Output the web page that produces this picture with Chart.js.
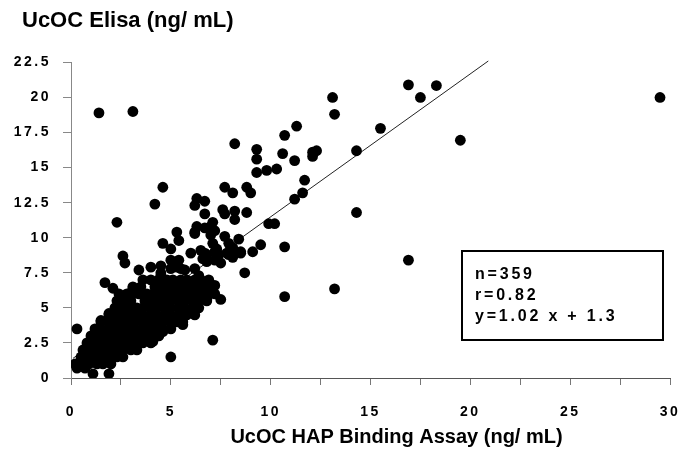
<!DOCTYPE html>
<html>
<head>
<meta charset="utf-8">
<script src="https://cdn.jsdelivr.net/npm/chart.js@4"></script>
<style>
  html, body { margin: 0; padding: 0; background: #fff; }
  #wrap { width: 680px; height: 450px; position: relative; }
</style>
</head>
<body>
<div id="wrap"><canvas id="scatter"></canvas></div>
<script>
// UcOC HAP binding assay (x) vs UcOC Elisa (y), ng/mL
// dense cluster first, read row by row, then the scattered points
const hap = [
  1.1, 1.9,
  0.3, 0.7,
  0.2, 0.6, 0.9, 1.3, 1.6, 2.0,
  0.5, 0.9, 1.2, 1.6, 1.9, 2.3, 2.6,
  0.6, 0.9, 1.3, 1.6, 2.0, 2.3, 2.6, 3.0, 3.3,
  0.8, 1.2, 1.5, 1.9, 2.2, 2.5, 2.9, 3.2, 3.6, 4.0,
  1.0, 1.3, 1.7, 2.0, 2.4, 2.7, 3.0, 3.4, 3.7, 4.1, 4.4,
  1.2, 1.5, 1.9, 2.2, 2.5, 2.9, 3.2, 3.6, 3.9, 4.2, 4.6, 5.0,
  1.5, 1.9, 2.2, 2.6, 2.9, 3.2, 3.6, 3.9, 4.3, 4.6, 5.0, 5.3, 5.6,
  1.9, 2.3, 2.6, 3.0, 3.3, 3.6, 4.0, 4.3, 4.7, 5.0, 5.4, 5.8, 6.2,
  2.2, 2.6, 2.9, 3.3, 3.6, 4.0, 4.3, 4.7, 5.0, 5.4, 5.7, 6.1, 6.4,
  2.3, 2.7, 3.0, 3.7, 4.0, 4.4, 4.7, 5.0, 5.4, 5.7, 6.1, 6.4, 6.8,
  2.4, 2.8, 3.1, 3.4, 3.8, 4.1, 4.5, 4.8, 5.1, 5.5, 5.8, 6.2, 6.5, 6.9, 7.2,
  3.1, 3.5, 4.2, 4.6, 4.9, 5.3, 5.6, 6.0, 6.3, 6.7, 7.0,
  3.6, 4.0, 4.4, 4.8, 5.1, 5.5, 5.8, 6.2, 6.5, 6.9,
  // scattered
  0.3, 1.5, 1.9, 4.6, 4.1, 5.6, 5.0, 7.1,
  5.8, 6.2, 6.8, 7.5, 1.7, 2.1, 3.1, 4.5,
  3.4, 4.0, 4.5, 4.5, 5.0, 5.4, 5.3, 5.0,
  5.5, 5.7, 6.2, 6.4, 6.7, 7.2, 2.6, 2.7,
  4.6, 5.0, 5.3, 5.4, 6.0, 6.2, 6.3, 6.7,
  7.0, 6.2, 7.0, 7.2, 7.1, 7.3, 6.8, 7.4,
  7.8, 8.1, 6.5, 6.6, 6.8, 7.2, 7.5, 6.7,
  7.2, 7.9, 8.5, 7.7, 7.9, 8.4, 8.1, 8.5,
  8.1, 9.1, 9.5, 8.7, 2.3, 4.2, 4.6, 6.2,
  6.3, 6.7, 6.7, 7.1, 7.6, 7.7, 8.2, 8.2,
  8.8, 7.7, 8.1, 8.8, 9.0, 9.9, 10.2, 10.7,
  10.7, 13.2, 16.9, 14.3, 8.2, 9.3, 9.3, 9.3,
  9.8, 10.3, 10.7, 11.3, 10.6, 11.2, 12.1, 12.3,
  12.1, 11.7, 11.6, 11.2, 13.1, 13.2, 14.3, 15.5,
  16.9, 18.3, 17.5, 19.5, 29.5, 1.4, 3.1
];
const elisa = [
  0.3, 0.3,
  0.7, 0.7,
  1.0, 1.0, 1.0, 1.0, 1.0, 1.0,
  1.5, 1.5, 1.5, 1.5, 1.5, 1.5, 1.5,
  2.0, 2.0, 2.0, 2.0, 2.0, 2.0, 2.0, 2.0, 2.0,
  2.5, 2.5, 2.5, 2.5, 2.5, 2.5, 2.5, 2.5, 2.5, 2.5,
  3.0, 3.0, 3.0, 3.0, 3.0, 3.0, 3.0, 3.0, 3.0, 3.0, 3.0,
  3.5, 3.5, 3.5, 3.5, 3.5, 3.5, 3.5, 3.5, 3.5, 3.5, 3.5, 3.5,
  4.0, 4.0, 4.0, 4.0, 4.0, 4.0, 4.0, 4.0, 4.0, 4.0, 4.0, 4.0, 4.0,
  4.5, 4.5, 4.5, 4.5, 4.5, 4.5, 4.5, 4.5, 4.5, 4.5, 4.5, 4.5, 4.5,
  5.0, 5.0, 5.0, 5.0, 5.0, 5.0, 5.0, 5.0, 5.0, 5.0, 5.0, 5.0, 5.0,
  5.5, 5.5, 5.5, 5.5, 5.5, 5.5, 5.5, 5.5, 5.5, 5.5, 5.5, 5.5, 5.5,
  6.0, 6.0, 6.0, 6.0, 6.0, 6.0, 6.0, 6.0, 6.0, 6.0, 6.0, 6.0, 6.0, 6.0, 6.0,
  6.5, 6.5, 6.5, 6.5, 6.5, 6.5, 6.5, 6.5, 6.5, 6.5, 6.5,
  7.0, 7.0, 7.0, 7.0, 7.0, 7.0, 7.0, 7.0, 7.0, 7.0,
  // scattered
  3.5, 4.1, 4.6, 3.3, 2.6, 3.8, 1.5, 2.7,
  4.8, 4.8, 5.6, 5.6, 6.8, 6.4, 6.4, 7.3,
  7.7, 7.9, 8.0, 7.5, 8.4, 8.4, 7.9, 7.8,
  7.8, 7.7, 7.8, 7.3, 6.7, 6.6, 8.7, 8.2,
  9.6, 9.2, 10.4, 9.8, 8.9, 10.4, 10.8, 10.7,
  10.8, 10.3, 10.2, 10.5, 9.6, 9.2, 8.8, 8.8,
  8.9, 9.1, 9.1, 8.5, 8.3, 8.4, 8.2, 8.9,
  9.0, 8.8, 8.9, 10.1, 9.6, 9.9, 9.3, 9.0,
  8.6, 9.0, 9.5, 7.5, 11.1, 12.4, 13.6, 12.3,
  12.8, 12.6, 11.7, 11.1, 12.0, 11.7, 11.9, 11.3,
  11.8, 13.6, 13.2, 13.6, 13.2, 11.0, 11.0, 9.35,
  5.8, 6.35, 8.4, 11.8, 16.7, 16.3, 15.6, 14.65,
  14.8, 14.9, 17.3, 17.95, 16.0, 15.5, 16.1, 16.2,
  15.8, 14.1, 13.2, 12.75, 20.0, 18.8, 16.2, 17.8,
  20.9, 20.85, 20.0, 16.95, 20.0, 18.9, 19.0
];

// regression line end points (y = 1.02 x + 1.3)
const fitHap = [0.1, 20.9];
const fitElisa = [1.4, 22.6];

const statsLines = ['n=359', 'r=0.82', 'y=1.02 x + 1.3'];

const FONT = '"Liberation Sans", Arial, Helvetica, sans-serif';

const points = hap.map((x, i) => ({ x: x, y: elisa[i] }));
const fitPoints = fitHap.map((x, i) => ({ x: x, y: fitElisa[i] }));

// tick labels in the original are printed with wide letter spacing;
// the x title sits a bit right of the axis centre
const axisTweaks = {
  id: 'axisTweaks',
  afterUpdate(chart) {
    Object.values(chart.scales).forEach(scale => {
      if (scale._tweaked) return;
      const drawLabels = scale.drawLabels;
      scale.drawLabels = function (area) {
        this.ctx.save();
        this.ctx.letterSpacing = '2.5px';
        drawLabels.call(this, area);
        this.ctx.restore();
      };
      scale._computeLabelArea = () => undefined; // don't clip "22.5"
      if (scale.axis === 'x') {
        const drawTitle = scale.drawTitle;
        scale.drawTitle = function () {
          this.ctx.save();
          this.ctx.translate(26, 0);
          drawTitle.call(this);
          this.ctx.restore();
        };
      }
      scale._tweaked = true;
    });
  }
};

// boxed stats text, bottom right
const statsBox = {
  id: 'statsBox',
  afterDraw(chart) {
    const ctx = chart.ctx;
    ctx.save();
    ctx.strokeStyle = '#000';
    ctx.lineWidth = 2;
    ctx.strokeRect(462, 251, 201, 89);
    ctx.fillStyle = '#000';
    ctx.font = 'bold 16px ' + FONT;
    ctx.letterSpacing = '2.8px';
    ctx.textBaseline = 'middle';
    statsLines.forEach((t, i) => ctx.fillText(t, 475, 275 + i * 21));
    ctx.restore();
  }
};

const ctx = document.getElementById('scatter').getContext('2d');
new Chart(ctx, {
  data: {
    datasets: [
      {
        type: 'scatter',
        label: 'UcOC',
        data: points,
        order: 0,
        pointRadius: 5.4,
        pointHoverRadius: 5.4,
        pointBackgroundColor: '#000',
        pointBorderWidth: 0
      },
      {
        type: 'line',
        label: 'fit',
        data: fitPoints,
        order: 1,
        borderColor: '#222',
        borderWidth: 1,
        pointRadius: 0,
        fill: false,
        clip: false
      }
    ]
  },
  options: {
    responsive: true,
    maintainAspectRatio: false,
    animation: false,
    layout: { padding: { left: 22, right: 4, top: 0, bottom: 0 } },
    plugins: {
      legend: { display: false },
      tooltip: { enabled: false },
      title: {
        display: true,
        text: 'UcOC Elisa (ng/ mL)',
        align: 'start',
        color: '#000',
        font: { family: FONT, size: 22, weight: 'bold' },
        padding: { top: 8, bottom: 28 }
      }
    },
    scales: {
      x: {
        type: 'linear',
        min: 0,
        max: 30,
        border: { color: '#555', width: 1 },
        grid: { drawOnChartArea: false, drawTicks: true, tickLength: 7, color: '#777' },
        ticks: {
          stepSize: 2.5,
          autoSkip: false,
          maxRotation: 0,
          padding: 19,
          color: '#000',
          font: { family: FONT, size: 14, weight: 'bold' },
          callback: v => (v % 5 === 0 ? v : '')
        },
        title: {
          display: true,
          text: 'UcOC HAP Binding Assay (ng/ mL)',
          color: '#000',
          font: { family: FONT, size: 20, weight: 'bold' },
          padding: { top: 0, bottom: 1 }
        },
        afterFit: s => { s.height = 72; s.paddingRight = 10; }
      },
      y: {
        min: 0,
        max: 22.5,
        border: { color: '#888', width: 1 },
        grid: { drawOnChartArea: false, drawTicks: true, tickLength: 8, color: '#888' },
        ticks: {
          stepSize: 2.5,
          padding: 12,
          color: '#000',
          font: { family: FONT, size: 14, weight: 'bold' }
        },
        afterFit: s => { s.width = 49; }
      }
    }
  },
  plugins: [axisTweaks, statsBox]
});
</script>
</body>
</html>
